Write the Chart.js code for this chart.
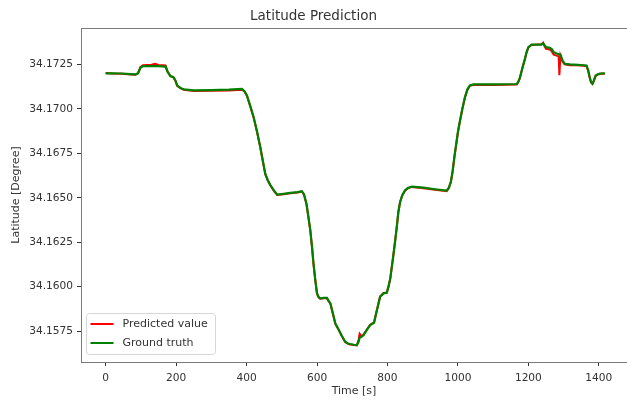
<!DOCTYPE html>
<html>
<head>
<meta charset="utf-8">
<script src="https://cdn.jsdelivr.net/npm/chart.js@4"></script>
<style>
html,body{margin:0;padding:0;background:#fff;overflow:hidden;}
#wrap{width:627px;height:406px;position:relative;}
</style>
</head>
<body>
<div id="wrap"><canvas id="c" width="627" height="406"></canvas></div>
<script>
const chartTitle = "Latitude Prediction";
const xLabel = "Time [s]";
const yLabel = "Latitude [Degree]";
const seriesNames = ["Predicted value", "Ground truth"];

const times = [0,20,47,70,85,92,99,106,130,140,150,170,176,184,192,198,203,212,222,250,300,350,387,394,401,410,420,430,439,446,453,460,468,478,487,505,524,545,557,563,570,575,581,586,590,595,600,605,609,620,628,633,638,645,652,661,670,680,688,694,705,713,718,721,726,732,741,751,762,768,774,779,789,798,803,808,813,817,822,827,831,836,842,850,858,869,902,935,968,974,980,985,990,995,1000,1006,1013,1020,1027,1034,1044,1100,1167,1172,1176,1183,1190,1195,1200,1209,1237,1242,1246,1250,1261,1267,1272,1282,1286,1288,1291,1297,1303,1318,1340,1365,1370,1374,1378,1382,1386,1391,1397,1403,1410,1417];

const groundTruth = [34.17200,34.17200,34.17199,34.17196,34.17194,34.17200,34.17232,34.17240,34.17240,34.17240,34.17240,34.17238,34.17207,34.17183,34.17180,34.17160,34.17132,34.17118,34.17110,34.17104,34.17105,34.17108,34.17112,34.17100,34.17076,34.17020,34.16954,34.16870,34.16785,34.16710,34.16636,34.16600,34.16570,34.16540,34.16518,34.16522,34.16527,34.16532,34.16537,34.16520,34.16467,34.16400,34.16317,34.16220,34.16130,34.16040,34.15962,34.15940,34.15934,34.15937,34.15937,34.15920,34.15906,34.15850,34.15793,34.15760,34.15725,34.15690,34.15680,34.15677,34.15673,34.15671,34.15690,34.15712,34.15718,34.15727,34.15755,34.15784,34.15797,34.15850,34.15900,34.15943,34.15962,34.15965,34.16000,34.16045,34.16120,34.16180,34.16260,34.16345,34.16420,34.16476,34.16515,34.16542,34.16555,34.16563,34.16557,34.16548,34.16540,34.16555,34.16590,34.16650,34.16730,34.16800,34.16870,34.16935,34.17005,34.17066,34.17110,34.17132,34.17138,34.17138,34.17140,34.17155,34.17176,34.17230,34.17280,34.17320,34.17347,34.17362,34.17362,34.17368,34.17358,34.17347,34.17344,34.17335,34.17319,34.17310,34.17308,34.17307,34.17306,34.17272,34.17254,34.17250,34.17248,34.17244,34.17215,34.17179,34.17150,34.17142,34.17160,34.17188,34.17195,34.17198,34.17200,34.17200];

const predicted = [34.17202,34.17199,34.17198,34.17194,34.17192,34.17202,34.17236,34.17246,34.17248,34.17254,34.17247,34.17244,34.17210,34.17185,34.17178,34.17158,34.17130,34.17116,34.17107,34.17101,34.17102,34.17104,34.17108,34.17098,34.17074,34.17018,34.16952,34.16868,34.16783,34.16708,34.16634,34.16598,34.16568,34.16537,34.16516,34.16520,34.16525,34.16530,34.16535,34.16518,34.16465,34.16398,34.16315,34.16218,34.16128,34.16038,34.15960,34.15938,34.15932,34.15935,34.15935,34.15918,34.15904,34.15848,34.15791,34.15758,34.15723,34.15688,34.15678,34.15675,34.15671,34.15669,34.15700,34.15735,34.15722,34.15729,34.15757,34.15786,34.15799,34.15852,34.15902,34.15945,34.15964,34.15967,34.16002,34.16047,34.16122,34.16182,34.16262,34.16347,34.16422,34.16478,34.16513,34.16540,34.16553,34.16561,34.16554,34.16545,34.16537,34.16553,34.16588,34.16648,34.16728,34.16798,34.16868,34.16933,34.17003,34.17064,34.17108,34.17130,34.17136,34.17135,34.17137,34.17153,34.17174,34.17228,34.17278,34.17318,34.17345,34.17360,34.17364,34.17372,34.17352,34.17338,34.17334,34.17322,34.17305,34.17298,34.17296,34.17190,34.17300,34.17266,34.17250,34.17246,34.17245,34.17241,34.17213,34.17177,34.17148,34.17140,34.17158,34.17186,34.17193,34.17196,34.17198,34.17198];

const xTicks = [0,200,400,600,800,1000,1200,1400];
const yTicks = [34.1575,34.1600,34.1625,34.1650,34.1675,34.1700,34.1725];

const textColor = '#333333';
const spineColor = '#7a7a7a';
const font = "'DejaVu Sans', sans-serif";

const framePlugin = {
  id: 'frame',
  afterDatasetsDraw(chart) {
    const {ctx, chartArea: a} = chart;
    ctx.save();
    ctx.strokeStyle = spineColor;
    ctx.lineWidth = 1;
    ctx.beginPath();
    ctx.moveTo(a.left, a.top + 0.5);
    ctx.lineTo(a.right, a.top + 0.5);
    ctx.stroke();
    // legend box
    const bx = a.left + 5.5, by = a.bottom - 48.5, bw = 129, bh = 41;
    ctx.fillStyle = 'rgba(255,255,255,0.85)';
    ctx.strokeStyle = '#d6d6d6';
    ctx.beginPath();
    ctx.roundRect(bx, by, bw, bh, 3);
    ctx.fill();
    ctx.stroke();
    const colors = chart.data.datasets.map(d => d.borderColor);
    const rows = [by + 10.5, by + 29.5];
    ctx.font = "11px " + font;
    ctx.textBaseline = 'middle';
    ctx.textAlign = 'left';
    for (let i = 0; i < 2; i++) {
      ctx.strokeStyle = colors[i];
      ctx.lineWidth = 2;
      ctx.beginPath();
      ctx.moveTo(bx + 4, rows[i]);
      ctx.lineTo(bx + 27, rows[i]);
      ctx.stroke();
      ctx.fillStyle = textColor;
      ctx.fillText(chart.data.datasets[i].label, bx + 36, rows[i]);
    }
    ctx.restore();
  }
};

new Chart(document.getElementById('c'), {
  type: 'line',
  data: {
    datasets: [
      { label: seriesNames[0], data: times.map((t,i)=>({x:t,y:predicted[i]})), borderColor: '#ff0000', backgroundColor: '#ff0000', borderWidth: 2, pointRadius: 0, tension: 0, order: 1 },
      { label: seriesNames[1], data: times.map((t,i)=>({x:t,y:groundTruth[i]})), borderColor: '#008000', backgroundColor: '#008000', borderWidth: 2.2, pointRadius: 0, tension: 0, order: 0 }
    ]
  },
  options: {
    responsive: false,
    animation: false,
    devicePixelRatio: 1,
    layout: { padding: { left: 0, right: 0, top: 0, bottom: 0 } },
    plugins: {
      legend: { display: false },
      tooltip: { enabled: false },
      title: { display: true, text: chartTitle, color: textColor, font: { family: font, size: 13.5, weight: 'normal' }, padding: { top: 8, bottom: 3.8 } }
    },
    scales: {
      x: {
        type: 'linear', min: -70, max: 1480,
        afterBuildTicks: s => { s.ticks = xTicks.map(v => ({value: v})); },
        afterFit: s => { s.height = 44; },
        grid: { display: true, drawOnChartArea: false, drawTicks: true, tickLength: 4, color: textColor },
        border: { display: true, color: spineColor },
        ticks: { color: textColor, font: { family: font, size: 10.6 }, padding: 6, maxRotation: 0, callback: v => String(v) },
        title: { display: true, text: xLabel, color: textColor, font: { family: font, size: 11 }, padding: { top: 1, bottom: 8.4 } }
      },
      y: {
        type: 'linear', min: 34.15576, max: 34.17455,
        afterBuildTicks: s => { s.ticks = yTicks.map(v => ({value: v})); },
        afterFit: s => { s.width = 81; },
        grid: { display: true, drawOnChartArea: false, drawTicks: true, tickLength: 4, color: textColor },
        border: { display: true, color: spineColor },
        ticks: { color: textColor, font: { family: font, size: 10.6 }, padding: 4, callback: v => Number(v).toFixed(4) },
        title: { display: true, text: yLabel, color: textColor, font: { family: font, size: 11 }, padding: { top: 9.5, bottom: 0 } }
      }
    }
  },
  plugins: [framePlugin]
});
</script>
</body>
</html>
